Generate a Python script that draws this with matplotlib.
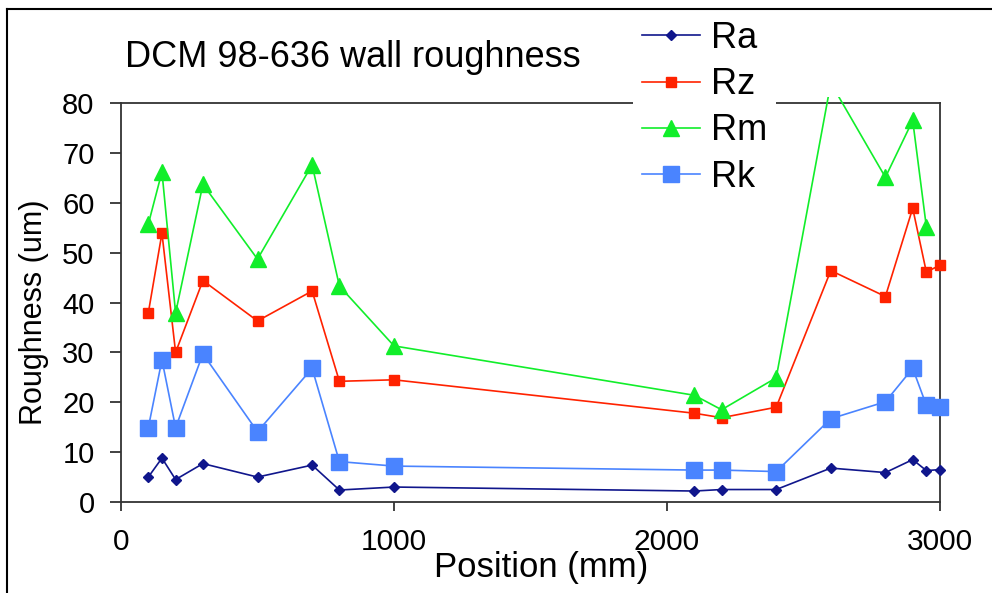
import matplotlib
matplotlib.use("Agg")
from matplotlib import pyplot as plt
from matplotlib.lines import Line2D
from matplotlib.patches import Rectangle

plt.rcParams['font.family'] = ['Liberation Sans', 'DejaVu Sans']

# positions along the wall (mm)
position = [100, 150, 200, 300, 500, 700, 800, 1000, 2100, 2200, 2400, 2600, 2800, 2900, 2950, 3000]
ra = [5.0, 8.8, 4.5, 7.7, 5.0, 7.4, 2.4, 3.0, 2.2, 2.5, 2.5, 6.8, 5.9, 8.5, 6.3, 6.5]
rz = [37.9, 53.9, 30.0, 44.4, 36.3, 42.3, 24.2, 24.5, 17.8, 16.9, 19.0, 46.4, 41.2, 58.9, 46.1, 47.5]
# Rm has no reading at 3000
rm = [55.7, 66.2, 37.9, 63.7, 48.7, 67.6, 43.3, 31.3, 21.4, 18.5, 24.9, 84.0, 65.1, 76.5, 55.2]
rk = [14.9, 28.5, 14.9, 29.7, 14.1, 26.8, 8.1, 7.2, 6.4, 6.4, 6.1, 16.7, 20.1, 26.8, 19.4, 19.1]

fig = plt.figure(figsize=(9.92, 5.93), dpi=100)
ax = fig.add_axes([121 / 992, 1 - 502 / 593, (940 - 121) / 992, (502 - 103) / 593])

# plot area clip is a little larger than the axes box (like the original)
clip = Rectangle((-0.03, -0.03), 1.06, 1.045, transform=ax.transAxes, visible=False)
ax.add_patch(clip)

series = [
    (position, ra, '#10168c', 'D', 5, 'Ra'),
    (position, rz, '#ff2200', 's', 6.5, 'Rz'),
    (position[:len(rm)], rm, '#11ee2a', '^', 11, 'Rm'),
    (position, rk, '#4a84ff', 's', 11.5, 'Rk'),
]
for xs, ys, c, m, ms, lab in series:
    ln, = ax.plot(xs, ys, color=c, lw=1.2, marker=m, ms=ms, label=lab, zorder=3)
    ln.set_clip_path(clip)

ax.set_xlim(0, 3000)
ax.set_ylim(0, 80)
ax.set_xticks([0, 1000, 2000, 3000])
ax.set_yticks(range(0, 81, 10))
ax.tick_params(axis='y', length=8, width=1.3, pad=11, labelsize=21, color='#333333')
ax.tick_params(axis='x', length=6.5, width=1.3, pad=12, labelsize=21.5, color='#333333')
for sp in ax.spines.values():
    sp.set_linewidth(1.3)
    sp.set_color('#333333')

ax.set_xlabel('Position (mm)', fontsize=25)
ax.xaxis.set_label_coords(0.513, -0.122)
ax.set_ylabel('Roughness (um)', fontsize=22)
ax.yaxis.set_label_coords(-0.088, 0.476)

fig.text(125 / 992, 1 - 67 / 593, 'DCM 98-636 wall roughness', fontsize=26, va='baseline', ha='left')

leg = fig.legend(loc='upper left', bbox_to_anchor=(633 / 992, 1 - 12 / 593), borderaxespad=0,
                 fontsize=26, handlelength=1.6, handletextpad=0.3, labelspacing=0.31,
                 borderpad=0.25, frameon=True, fancybox=False)
leg.get_frame().set_edgecolor('none')
leg.get_frame().set_facecolor('white')
leg.get_frame().set_alpha(1)
leg.set_zorder(10)

# outer frame of the chart area
fig.add_artist(Line2D([7 / 992, 1], [1 - 9 / 593, 1 - 9 / 593], color='black', lw=1.5))
fig.add_artist(Line2D([7 / 992, 7 / 992], [0, 1 - 9 / 593], color='black', lw=1.5))

plt.savefig('out.png', dpi=100)
